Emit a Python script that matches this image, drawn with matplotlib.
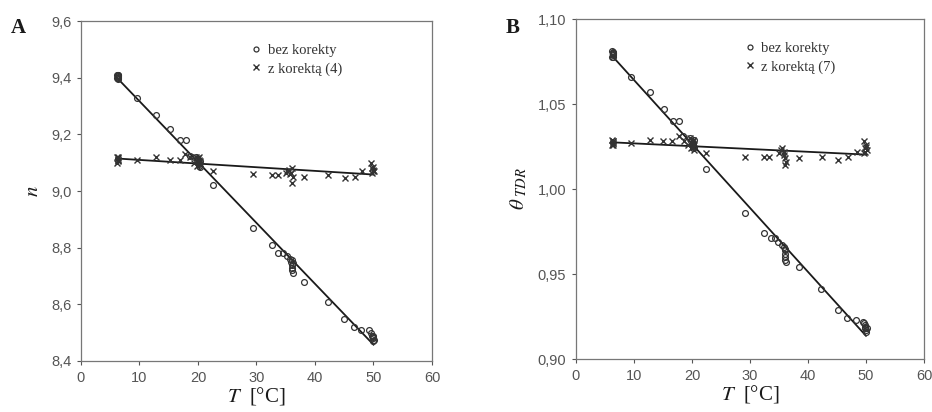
import matplotlib
matplotlib.use('Agg')
import matplotlib.pyplot as plt
from matplotlib.ticker import FuncFormatter
import numpy as np

plt.rcParams['mathtext.fontset'] = 'stix'

# --- A: n(T) ---
T_a_bez = [6.2, 6.2, 6.3, 6.3, 6.4, 6.4, 6.3, 6.3, 9.6, 12.8, 15.3, 16.9, 18.0, 18.7,
           19.6, 19.8, 20.0, 20.1, 20.2, 20.3, 20.4, 20.2, 22.6, 29.4, 32.7, 33.7, 34.5, 35.2,
           35.7, 35.9, 36.0, 36.1, 36.1, 36.2, 36.2, 36.0, 38.2, 42.2, 44.9, 46.6, 47.9, 49.3,
           49.6, 49.8, 49.9, 50.0, 50.0, 50.1, 49.9]
n_a_bez = [9.40, 9.41, 9.395, 9.405, 9.40, 9.41, 9.402, 9.408, 9.33, 9.27, 9.22, 9.18, 9.18, 9.125,
           9.12, 9.11, 9.10, 9.09, 9.095, 9.105, 9.085, 9.10, 9.02, 8.87, 8.81, 8.78, 8.78, 8.77,
           8.76, 8.75, 8.74, 8.73, 8.72, 8.71, 8.745, 8.755, 8.68, 8.61, 8.55, 8.52, 8.51, 8.51,
           8.50, 8.49, 8.48, 8.47, 8.485, 8.475, 8.49]
T_a_kor = [6.2, 6.2, 6.3, 6.3, 6.4, 6.4, 6.3, 9.5, 12.8, 15.2, 16.9, 17.7, 18.6, 19.3,
           19.6, 19.8, 20.0, 20.1, 20.2, 20.3, 20.4, 20.1, 22.6, 29.4, 32.7, 33.7,
           35.0, 35.3, 35.5, 35.8, 36.0, 36.1, 36.2, 35.9, 38.2, 42.2, 45.1, 46.8, 48.1, 49.5,
           49.7, 49.8, 49.9, 50.0, 50.1, 50.0]
n_a_kor = [9.10, 9.12, 9.11, 9.105, 9.115, 9.11, 9.12, 9.11, 9.12, 9.11, 9.11, 9.13, 9.12, 9.10,
           9.12, 9.09, 9.115, 9.10, 9.12, 9.095, 9.105, 9.11, 9.07, 9.06, 9.055, 9.055,
           9.065, 9.07, 9.075, 9.06, 9.08, 9.03, 9.05, 9.065, 9.05, 9.055, 9.045, 9.05, 9.07, 9.10,
           9.08, 9.065, 9.07, 9.075, 9.07, 9.085]

# --- B: theta_TDR(T) ---
T_b_bez = [6.2, 6.2, 6.3, 6.3, 6.4, 6.4, 6.3, 6.3, 9.5, 12.8, 15.1, 16.7, 17.8, 18.5,
           19.6, 19.8, 20.0, 20.1, 20.2, 20.3, 20.4, 20.2, 22.4, 29.1, 32.4, 33.6, 34.3, 34.9,
           35.5, 35.8, 36.0, 36.0, 36.1, 36.1, 36.2, 36.0, 38.4, 42.2, 45.2, 46.8, 48.3, 49.5,
           49.6, 49.8, 49.9, 50.0, 50.0, 50.1, 49.9]
th_b_bez = [1.078, 1.081, 1.079, 1.080, 1.078, 1.080, 1.0795, 1.0805, 1.066, 1.057, 1.047, 1.040, 1.040, 1.031,
            1.030, 1.028, 1.026, 1.024, 1.027, 1.029, 1.025, 1.027, 1.012, 0.986, 0.974, 0.971, 0.971, 0.969,
            0.967, 0.966, 0.964, 0.962, 0.960, 0.958, 0.957, 0.965, 0.954, 0.941, 0.929, 0.924, 0.923, 0.922,
            0.921, 0.919, 0.918, 0.916, 0.917, 0.918, 0.920]
T_b_kor = [6.2, 6.2, 6.3, 6.3, 6.4, 6.4, 6.3, 9.5, 12.8, 15.0, 16.6, 17.8, 18.6, 19.3,
           19.6, 19.8, 20.0, 20.1, 20.2, 20.3, 20.4, 20.1, 22.4, 29.1, 32.4, 33.3,
           35.0, 35.3, 35.5, 35.8, 36.0, 36.1, 36.2, 35.9, 38.4, 42.4, 45.2, 46.9, 48.4, 49.7,
           49.7, 49.8, 49.9, 50.0, 50.1, 50.0]
th_b_kor = [1.026, 1.029, 1.027, 1.028, 1.026, 1.027, 1.028, 1.027, 1.029, 1.028, 1.028, 1.031, 1.028, 1.026,
            1.030, 1.024, 1.027, 1.025, 1.029, 1.023, 1.026, 1.028, 1.021, 1.019, 1.019, 1.019,
            1.021, 1.023, 1.024, 1.020, 1.018, 1.014, 1.016, 1.022, 1.018, 1.019, 1.017, 1.019, 1.022, 1.028,
            1.021, 1.024, 1.022, 1.026, 1.023, 1.025]

serif = 'Liberation Serif'
sans = 'Liberation Sans'
tick_col = '#555555'
ink = '#1a1a1a'

fig = plt.figure(figsize=(9.32, 4.12), dpi=100)
axA = fig.add_axes([0.0869, 0.1238, 0.3766, 0.825])
axB = fig.add_axes([0.618, 0.1286, 0.3734, 0.825])


def comma(fmt):
    return FuncFormatter(lambda v, p: (fmt % v).replace('.', ','))


def panel(ax, tb, yb, tk, yk, ylim, yticks, yfmt, ylabel, leg_k, letter, letter_x):
    # regression lines fitted to both series
    xs = np.array([6.0, 50.0])
    for t, y in ((tb, yb), (tk, yk)):
        a, b = np.polyfit(t, y, 1)
        ax.plot(xs, a * xs + b, color=ink, lw=1.3, zorder=2)
    ax.plot(tb, yb, 'o', ms=4.2, mfc='none', mec='#333333', mew=0.9, zorder=3,
            label='bez korekty')
    ax.plot(tk, yk, 'x', ms=5, color='#333333', mew=1.0, zorder=3, label=leg_k)

    ax.set_xlim(0, 60)
    ax.set_ylim(*ylim)
    ax.set_xticks(range(0, 61, 10))
    ax.set_yticks(yticks)
    ax.yaxis.set_major_formatter(comma(yfmt))
    ax.tick_params(direction='out', length=3, width=0.8, colors=tick_col,
                   labelsize=10.5, pad=4)
    for lab in ax.get_xticklabels() + ax.get_yticklabels():
        lab.set_family(sans)
    for s in ax.spines.values():
        s.set_color('#777777')
        s.set_linewidth(0.9)

    ax.set_xlabel(r'$T$  [°C]', fontsize=15, family=serif, color=ink, labelpad=0)
    ax.set_ylabel(ylabel, fontsize=15, family=serif, color=ink, labelpad=6)

    leg = ax.legend(loc='upper left', bbox_to_anchor=(0.47, 0.95), frameon=False,
                    prop={'family': serif, 'size': 10.5}, handlelength=0.6,
                    handletextpad=0.5, labelspacing=0.35, borderaxespad=0,
                    markerscale=0.85)
    for t in leg.get_texts():
        t.set_color('#333333')

    fig.text(letter_x, 0.92, letter, family=serif, fontweight='bold', fontsize=15,
             color=ink)


panel(axA, T_a_bez, n_a_bez, T_a_kor, n_a_kor, (8.4, 9.6),
      [8.4, 8.6, 8.8, 9.0, 9.2, 9.4, 9.6], '%.1f', r'$n$', 'z korektą (4)',
      'A', 0.012)
panel(axB, T_b_bez, th_b_bez, T_b_kor, th_b_kor, (0.90, 1.10),
      [0.90, 0.95, 1.00, 1.05, 1.10], '%.2f', r'$\theta_{\ TDR}$', 'z korektą (7)',
      'B', 0.542)

fig.savefig('out.png', dpi=100)
